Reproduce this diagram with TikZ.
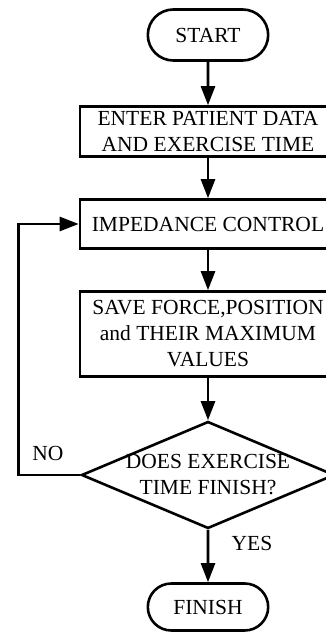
\documentclass[tikz,border=0pt]{standalone}
\usepackage{fontspec}
\setmainfont{Liberation Serif}
\usetikzlibrary{shapes.misc,shapes.geometric,arrows.meta}

\begin{document}
\begin{tikzpicture}[x=1bp, y=1bp,
    every node/.style={font=\fontsize{21.5bp}{26bp}\selectfont},
    terminal/.style={rounded rectangle, draw, line width=2.6bp, minimum width=127bp},
    procbox/.style={rectangle, draw, line width=2.6bp, minimum width=256bp, align=center, inner sep=0pt},
    flow/.style={line width=2.6bp, -{Triangle[length=19bp, width=14bp]}}]
                \useasboundingbox (0,0) rectangle (325,633);

                % Start and input
                \node[terminal, minimum height=51bp] (start) at (208, 598) {START};
                \node[procbox, minimum height=50bp] (enter) at (208, 501.5) {ENTER PATIENT DATA\\AND EXERCISE TIME};

                % Control loop body
                \node[procbox, minimum height=49bp] (imp) at (208, 409) {IMPEDANCE CONTROL};
                \node[procbox, minimum height=85bp] (save) at (208, 299) {SAVE FORCE,POSITION\\and THEIR MAXIMUM\\VALUES};

                % Decision
                \node[diamond, draw, line width=2.6bp, minimum width=253bp, minimum height=107bp, inner sep=0pt] (dec) at (208, 158) {};
                \node[align=center, inner sep=0pt] (dectext) at (dec.center) {DOES EXERCISE\\TIME FINISH?};
                \node[terminal, minimum height=47bp] (finish) at (208, 26) {FINISH};

                % Connectors
                \draw[flow] (start) -- (enter);
                \draw[flow] (enter) -- (imp);
                \draw[flow] (imp) -- (save);
                \draw[flow] (save) -- (dec);
                \draw[flow] (dec) -- (finish);
                \coordinate (back) at (18.5, 158);
                \draw[flow] (dec.west) -- (back) |- (imp.west);

                % Branch labels
                \node (no) at (48, 180) {NO};
                \node (yes) at (252, 90) {YES};
            \end{tikzpicture}
\end{document}
